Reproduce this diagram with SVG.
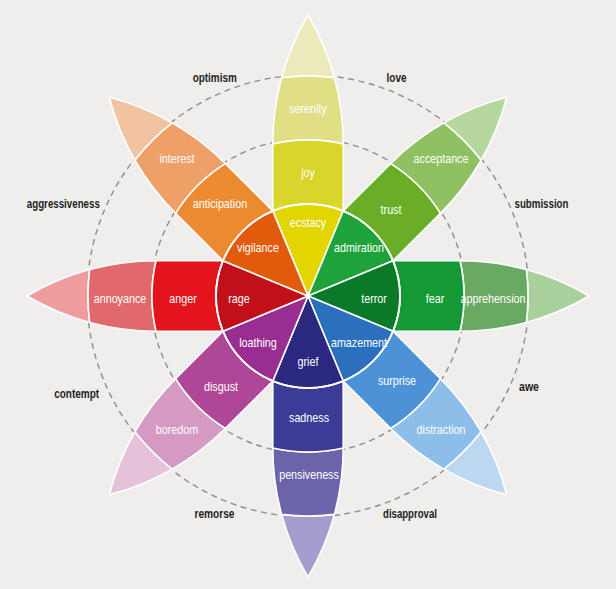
<svg xmlns="http://www.w3.org/2000/svg" width="616" height="589" viewBox="0 0 616 589">
<style>
.bg{fill:#efeeec}
.dash{fill:none;stroke:#8c8c8c;stroke-width:1.4;stroke-dasharray:6 4.5}
.seg{stroke:#ffffff;stroke-width:1.6;stroke-linejoin:round}
.lbl{font-family:"Liberation Sans",Arial,sans-serif;font-size:12.5px;fill:#ffffff;text-anchor:middle}
.out{font-family:"Liberation Sans",Arial,sans-serif;font-size:12.5px;font-weight:bold;fill:#1e1e1e;text-anchor:middle}
</style>
<defs>
<path id="wedge" d="M0,0 L85,-35.2 A92,92 0 0 1 85,35.2 Z"/>
<path id="band1" d="M85,-35.2 L152,-35.2 A156,156 0 0 1 152,35.2 L85,35.2 A92,92 0 0 0 85,-35.2 Z"/>
<path id="band2" d="M152,-35.2 A254,254 0 0 1 218.4,-26.4 A220,220 0 0 1 218.4,26.4 A254,254 0 0 1 152,35.2 A156,156 0 0 0 152,-35.2 Z"/>
<path id="tip" d="M218.4,-26.4 A254,254 0 0 1 281,0 A254,254 0 0 1 218.4,26.4 A220,220 0 0 0 218.4,-26.4 Z"/>
</defs>
<rect class="bg" x="0" y="0" width="616" height="589"/>
<g id="guides">
<circle class="dash" cx="308" cy="296" r="157.5"/>
<circle class="dash" cx="308" cy="296" r="221"/>
</g>
<g id="petals" transform="translate(308,296)">
<g id="petal-yellow" transform="rotate(-90)">
<use href="#tip" class="seg" fill="#ebeabb"/><use href="#band2" class="seg" fill="#e1df86"/><use href="#band1" class="seg" fill="#d9d52a"/>
</g>
<g id="petal-green" transform="rotate(-45)">
<use href="#tip" class="seg" fill="#b5d79f"/><use href="#band2" class="seg" fill="#8fc062"/><use href="#band1" class="seg" fill="#6aae28"/>
</g>
<g id="petal-darkgreen" transform="rotate(0)">
<use href="#tip" class="seg" fill="#a9d09c"/><use href="#band2" class="seg" fill="#6aa962"/><use href="#band1" class="seg" fill="#149a34"/>
</g>
<g id="petal-blue" transform="rotate(45)">
<use href="#tip" class="seg" fill="#bcd7f0"/><use href="#band2" class="seg" fill="#8dbde9"/><use href="#band1" class="seg" fill="#4b93d6"/>
</g>
<g id="petal-indigo" transform="rotate(90)">
<use href="#tip" class="seg" fill="#a59ecc"/><use href="#band2" class="seg" fill="#6c64ab"/><use href="#band1" class="seg" fill="#3d3b98"/>
</g>
<g id="petal-purple" transform="rotate(135)">
<use href="#tip" class="seg" fill="#e5c2da"/><use href="#band2" class="seg" fill="#d49ac3"/><use href="#band1" class="seg" fill="#b04796"/>
</g>
<g id="petal-red" transform="rotate(180)">
<use href="#tip" class="seg" fill="#ee9c9c"/><use href="#band2" class="seg" fill="#e2696b"/><use href="#band1" class="seg" fill="#e3141c"/>
</g>
<g id="petal-orange" transform="rotate(-135)">
<use href="#tip" class="seg" fill="#f1c3a0"/><use href="#band2" class="seg" fill="#eea066"/><use href="#band1" class="seg" fill="#ec8a32"/>
</g>
<g id="core">
<use href="#wedge" class="seg" fill="#e2d500" transform="rotate(-90)"/>
<use href="#wedge" class="seg" fill="#1ea23a" transform="rotate(-45)"/>
<use href="#wedge" class="seg" fill="#0a7a28" transform="rotate(0)"/>
<use href="#wedge" class="seg" fill="#2a70bc" transform="rotate(45)"/>
<use href="#wedge" class="seg" fill="#2b287f" transform="rotate(90)"/>
<use href="#wedge" class="seg" fill="#9a2d90" transform="rotate(135)"/>
<use href="#wedge" class="seg" fill="#c2101a" transform="rotate(180)"/>
<use href="#wedge" class="seg" fill="#e25a0b" transform="rotate(-135)"/>
<circle cx="0" cy="0" r="92" fill="none" stroke="#ffffff" stroke-width="1.8"/>
</g>
</g>
<g id="labels">
<text class="lbl" transform="translate(308,113) scale(0.86,1)">serenity</text>
<text class="lbl" transform="translate(308,177) scale(0.86,1)">joy</text>
<text class="lbl" transform="translate(308,227) scale(0.86,1)">ecstacy</text>
<text class="lbl" transform="translate(177,163) scale(0.86,1)">interest</text>
<text class="lbl" transform="translate(220,208) scale(0.86,1)">anticipation</text>
<text class="lbl" transform="translate(258,252) scale(0.86,1)">vigilance</text>
<text class="lbl" transform="translate(441,163) scale(0.86,1)">acceptance</text>
<text class="lbl" transform="translate(391,214) scale(0.86,1)">trust</text>
<text class="lbl" transform="translate(359,252) scale(0.86,1)">admiration</text>
<text class="lbl" transform="translate(120,303) scale(0.86,1)">annoyance</text>
<text class="lbl" transform="translate(183,303) scale(0.86,1)">anger</text>
<text class="lbl" transform="translate(239,303) scale(0.86,1)">rage</text>
<text class="lbl" transform="translate(374,303) scale(0.86,1)">terror</text>
<text class="lbl" transform="translate(435,303) scale(0.86,1)">fear</text>
<text class="lbl" transform="translate(493,303) scale(0.86,1)">apprehension</text>
<text class="lbl" transform="translate(258,347) scale(0.86,1)">loathing</text>
<text class="lbl" transform="translate(308,366) scale(0.86,1)">grief</text>
<text class="lbl" transform="translate(359,347) scale(0.86,1)">amazement</text>
<text class="lbl" transform="translate(221,391) scale(0.86,1)">disgust</text>
<text class="lbl" transform="translate(397,385) scale(0.86,1)">surprise</text>
<text class="lbl" transform="translate(177,434) scale(0.86,1)">boredom</text>
<text class="lbl" transform="translate(441,434) scale(0.86,1)">distraction</text>
<text class="lbl" transform="translate(309,422) scale(0.86,1)">sadness</text>
<text class="lbl" transform="translate(309,479) scale(0.86,1)">pensiveness</text>
</g>
<g id="outer-labels">
<text class="out" x="214.7" y="82" textLength="44" lengthAdjust="spacingAndGlyphs">optimism</text>
<text class="out" x="396.5" y="82" textLength="20" lengthAdjust="spacingAndGlyphs">love</text>
<text class="out" x="63.3" y="208" textLength="73" lengthAdjust="spacingAndGlyphs">aggressiveness</text>
<text class="out" x="541.5" y="208" textLength="54" lengthAdjust="spacingAndGlyphs">submission</text>
<text class="out" x="76.7" y="397.5" textLength="45" lengthAdjust="spacingAndGlyphs">contempt</text>
<text class="out" x="529" y="391" textLength="20" lengthAdjust="spacingAndGlyphs">awe</text>
<text class="out" x="214.5" y="518" textLength="40" lengthAdjust="spacingAndGlyphs">remorse</text>
<text class="out" x="410" y="518" textLength="54" lengthAdjust="spacingAndGlyphs">disapproval</text>
</g>
</svg>
